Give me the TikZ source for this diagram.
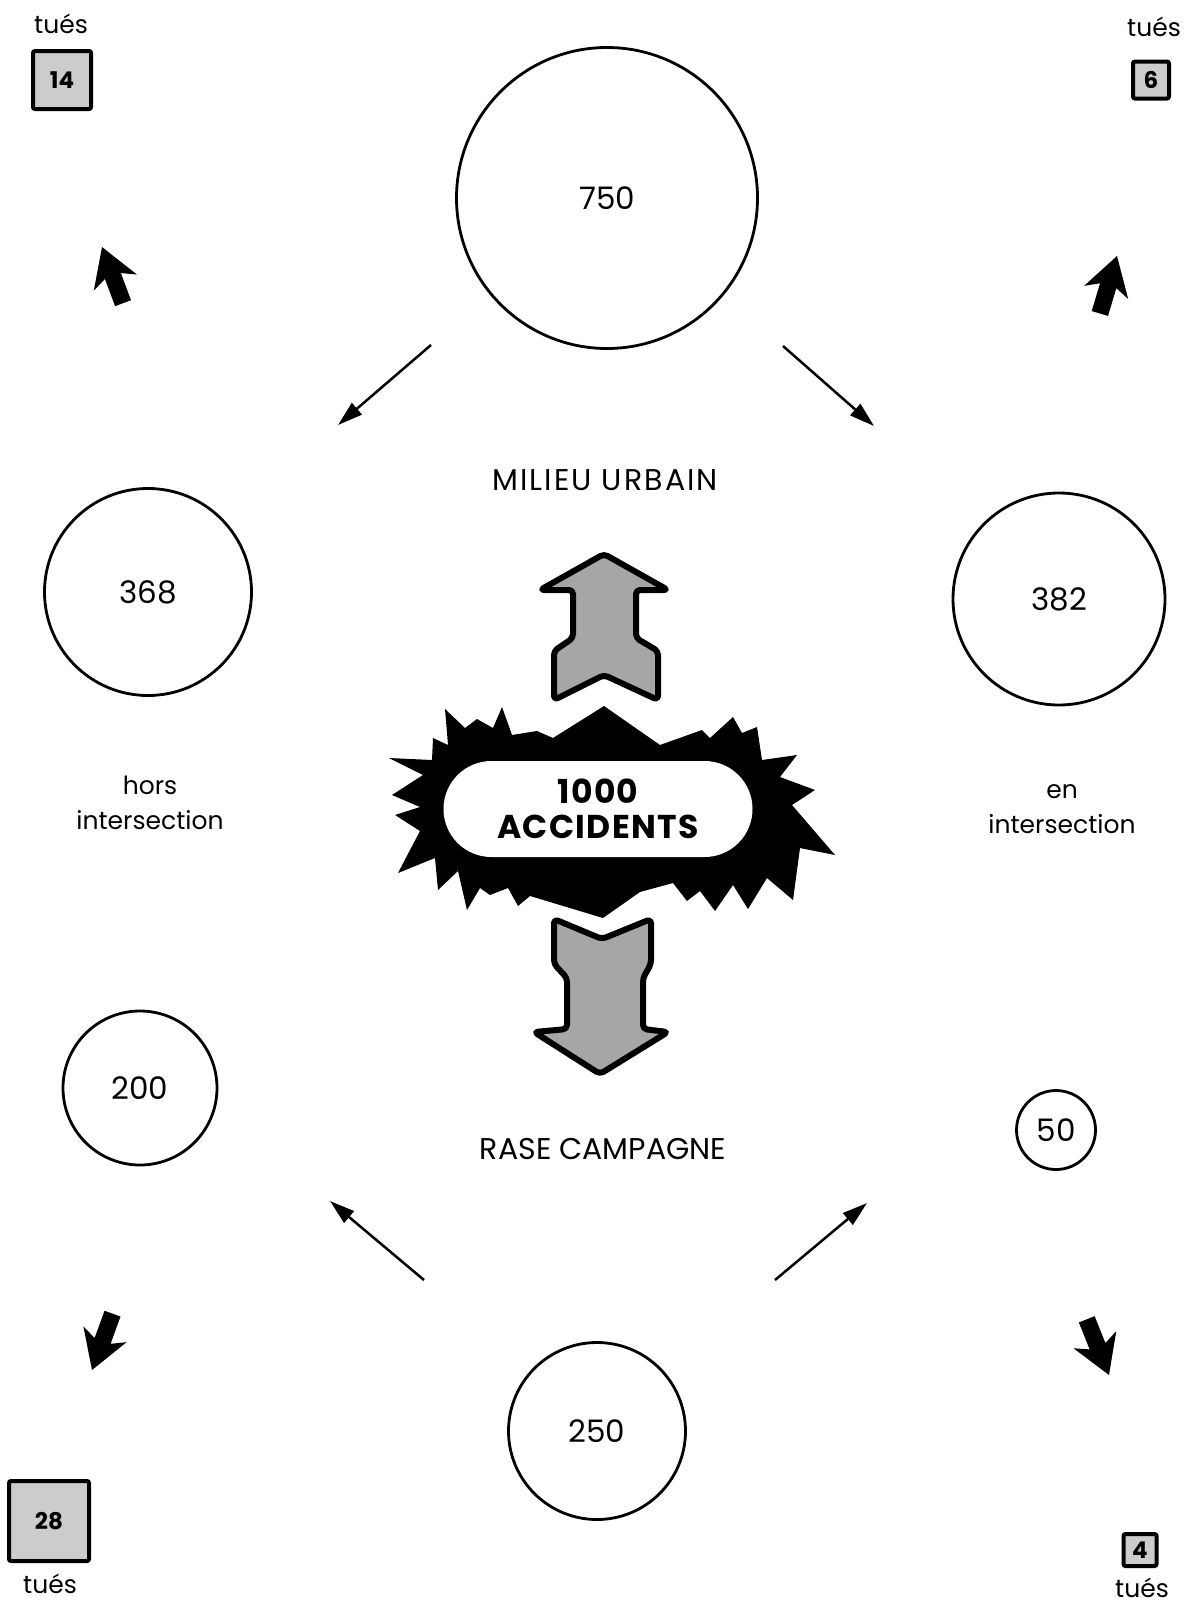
\documentclass[tikz,border=0pt]{standalone}
\usepackage{fontspec}
\setmainfont{Poppins}
\usetikzlibrary{arrows.meta,shapes.misc}
\begin{document}
\begin{tikzpicture}[x=1pt,y=-1pt,
  circ/.style={draw, circle, line width=2.8pt, inner sep=0pt, font=\fontsize{31}{36}\selectfont},
  lbl/.style={font=\fontsize{25}{35}\selectfont, align=center, inner sep=0pt},
  caps/.style={font=\fontsize{30}{35}\selectfont, inner sep=0pt},
  killbox/.style={draw, line width=4pt, fill=black!20, rounded corners=2pt, inner sep=0pt, font=\bfseries\fontsize{23}{26}\selectfont},
  thin/.style={line width=2.5pt, -{Triangle[length=25pt,width=15pt]}},
  blockarrow/.style={fill=black},
  bigarrow/.style={draw=black, fill=black!35, line width=6pt, rounded corners=4pt, line join=round}
]
\fill[white] (0,0) rectangle (1188,1606);
\useasboundingbox (0,0) rectangle (1188,1606);

% circles
\node[circ, minimum size=301] (c750) at (607,198) {750};
\node[circ, minimum size=207] (c368) at (148,592) {368};
\node[circ, minimum size=212] (c382) at (1059,599) {382};
\node[circ, minimum size=154] (c200) at (140,1088) {200};
\node[circ, minimum size=79] (c50) at (1056,1130) {50};
\node[circ, minimum size=177] (c250) at (597,1431) {250};

% labels
\node[caps, font=\fontsize{30}{35}\selectfont\addfontfeatures{LetterSpace=7}] (urb) at (605,480) {MILIEU URBAIN};
\node[caps] (rase) at (603,1149) {RASE CAMPAGNE};
\node[lbl] (hors) at (150,803) {hors\\intersection};
\node[lbl] (en) at (1062,809) {en\\intersection};

% killed boxes
\node[lbl] (t1) at (61,24) {tués};
\node[killbox, minimum width=58, minimum height=58] (k1) at (62,80) {14};
\node[lbl] (t2) at (1154,27) {tués};
\node[killbox, minimum width=36, minimum height=37] (k2) at (1151,80) {6};
\node[killbox, minimum width=80, minimum height=80] (k3) at (49,1521) {28};
\node[lbl] (t3) at (50,1584) {tués};
\node[killbox, minimum width=33, minimum height=32] (k4) at (1140,1550) {4};
\node[lbl] (t4) at (1142,1588) {tués};

% thin arrows
\coordinate (a1s) at (431,345); \coordinate (a1e) at (338,425);
\coordinate (a2s) at (783,346); \coordinate (a2e) at (874,426);
\coordinate (a3s) at (424,1280); \coordinate (a3e) at (330,1201);
\coordinate (a4s) at (775,1280); \coordinate (a4e) at (867,1203);
\draw[thin] (a1s) -- (a1e);
\draw[thin] (a2s) -- (a2e);
\draw[thin] (a3s) -- (a3e);
\draw[thin] (a4s) -- (a4e);

% black block arrows
\fill[blockarrow, shift={(102,247)}, rotate=-69.44]
  (0,0) -- (38,23) -- (31,8.5) -- (60,8.5) -- (60,-8.5) -- (31,-8.5) -- (38,-23) -- cycle;
\fill[blockarrow, shift={(1117,256)}, rotate=-106.6]
  (0,0) -- (38,23) -- (31,8.5) -- (60,8.5) -- (60,-8.5) -- (31,-8.5) -- (38,-23) -- cycle;
\fill[blockarrow, shift={(92,1370)}, rotate=70.0]
  (0,0) -- (38,23) -- (31,8.5) -- (60,8.5) -- (60,-8.5) -- (31,-8.5) -- (38,-23) -- cycle;
\fill[blockarrow, shift={(1109,1375)}, rotate=111.8]
  (0,0) -- (38,23) -- (31,8.5) -- (60,8.5) -- (60,-8.5) -- (31,-8.5) -- (38,-23) -- cycle;

% starburst
\fill[black] (604,706) -- (660,745) -- (702,730) -- (710,738) -- (733,717) -- (742,733)
  -- (757,727) -- (762,760) -- (797,755) -- (780,777) -- (815,790) -- (792,805)
  -- (835,855) -- (800,848) -- (793,900) -- (767,878) -- (748,909) -- (733,885)
  -- (715,911) -- (700,891) -- (687,901) -- (673,883) -- (640,892) -- (603,918)
  -- (530,896) -- (518,906) -- (508,888) -- (490,895) -- (480,888) -- (467,910)
  -- (458,871) -- (438,890) -- (435,858) -- (398,873) -- (420,831) -- (395,815)
  -- (420,807) -- (392,795) -- (423,775) -- (389,758) -- (432,760) -- (433,738)
  -- (448,745) -- (445,709) -- (465,728) -- (477,719) -- (493,728) -- (502,707)
  -- (512,735) -- (537,731) -- (553,738) -- cycle;
\node[rounded rectangle, fill=white, minimum width=309, minimum height=96, inner sep=0pt,
  font=\bfseries\fontsize{33}{35}\selectfont\addfontfeatures{LetterSpace=4}, align=center] (pill) at (598,809) {1000\\ACCIDENTS};

% grey arrows
\draw[bigarrow] (604,554) -- (668,590) -- (636,590) -- (636,638) -- (658,651) -- (658,700)
  -- (604,675) -- (554,700) -- (554,651) -- (573,638) -- (573,590) -- (540,590) -- cycle;
\draw[bigarrow] (554,919) -- (602,939) -- (651,919) -- (651,964) -- (643,978) -- (643,1029)
  -- (668,1032) -- (600,1074) -- (534,1032) -- (567,1029) -- (567,978) -- (554,964) -- cycle;
\end{tikzpicture}
\end{document}
